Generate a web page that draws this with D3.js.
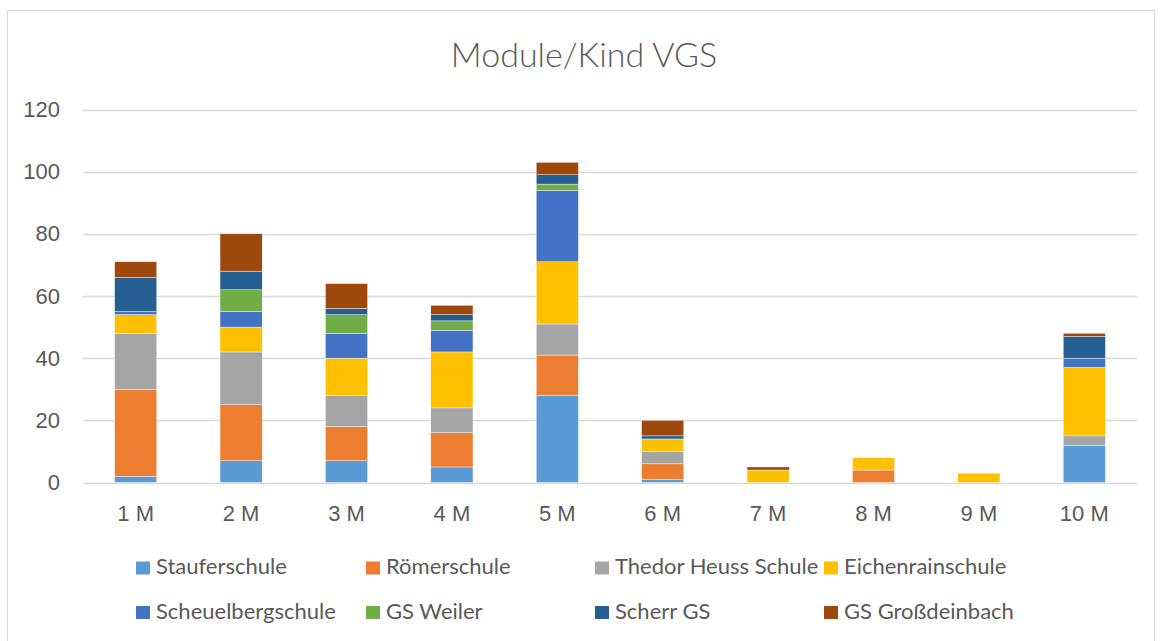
<!DOCTYPE html>
<html>
<head>
<meta charset="utf-8">
<script src="https://cdn.jsdelivr.net/npm/d3@7"></script>
<style>
  body { margin: 0; background: #fff; }
  svg { display: block; font-family: Lato, "Open Sans", sans-serif; }
</style>
</head>
<body>
<svg width="1160" height="641"></svg>
<script>
const categories = ['1 M', '2 M', '3 M', '4 M', '5 M', '6 M', '7 M', '8 M', '9 M', '10 M'];
const schools = ['Stauferschule', 'Römerschule', 'Thedor Heuss Schule', 'Eichenrainschule',
  'Scheuelbergschule', 'GS Weiler', 'Scherr GS', 'GS Großdeinbach'];
const colors = ['#5b9bd5', '#ed7d31', '#a5a5a5', '#ffc000', '#4472c4', '#70ad47', '#255e91', '#9e480e'];

const stauferschule = [2, 7, 7, 5, 28, 1, 0, 0, 0, 12];
const roemerschule = [28, 18, 11, 11, 13, 5, 0, 4, 0, 0];
const theodorHeuss = [18, 17, 10, 8, 10, 4, 0, 0, 0, 3];
const eichenrain = [6, 8, 12, 18, 20, 4, 4, 4, 3, 22];
const scheuelberg = [1, 5, 8, 7, 23, 0, 0, 0, 0, 3];
const gsWeiler = [0, 7, 6, 3, 2, 0, 0, 0, 0, 0];
const scherrGS = [11, 6, 2, 2, 3, 1, 0, 0, 0, 7];
const grossdeinbach = [5, 12, 8, 3, 4, 5, 1, 0, 0, 1];

const yTicks = [0, 20, 40, 60, 80, 100, 120];

const series = [stauferschule, roemerschule, theodorHeuss, eichenrain,
  scheuelberg, gsWeiler, scherrGS, grossdeinbach];

const rows = categories.map((c, i) => {
  const row = { cat: c };
  schools.forEach((s, j) => { row[s] = series[j][i]; });
  return row;
});

const svg = d3.select('svg');
const textColor = '#595959';

// chart frame
svg.append('rect')
  .attr('x', 7.5).attr('y', 10.5)
  .attr('width', 1147).attr('height', 640)
  .attr('fill', 'none').attr('stroke', '#d9d9d9');

const x = d3.scaleBand().domain(categories).range([83, 1137]).paddingInner(0.6).paddingOuter(0.3);
const y = d3.scaleLinear().domain([0, 120]).range([482.5, 109.5]);

// title
svg.append('text')
  .attr('x', 584).attr('y', 66.5)
  .attr('text-anchor', 'middle')
  .attr('font-size', 34).attr('font-weight', 300)
  .attr('fill', textColor)
  .text('Module/Kind VGS');

// gridlines
svg.append('g')
  .selectAll('line')
  .data(yTicks)
  .join('line')
  .attr('x1', 83).attr('x2', 1137)
  .attr('y1', d => Math.round(y(d)) + 0.5).attr('y2', d => Math.round(y(d)) + 0.5)
  .attr('stroke', '#d9d9d9').attr('stroke-width', 1.3);

// y axis
const yAxis = svg.append('g')
  .attr('transform', 'translate(60,0)')
  .call(d3.axisLeft(y).tickValues(yTicks).tickSize(0).tickPadding(0));
yAxis.select('.domain').remove();
yAxis.selectAll('text').attr('font-size', 22).attr('fill', textColor).attr('font-family', null);

// stacked bars
const stack = d3.stack().keys(schools)(rows);

svg.append('g')
  .selectAll('g')
  .data(stack)
  .join('g')
  .attr('fill', (d, i) => colors[i])
  .selectAll('rect')
  .data(d => d)
  .join('rect')
  .attr('x', d => x(d.data.cat))
  .attr('width', x.bandwidth())
  .attr('y', d => y(d[1]))
  .attr('height', d => y(d[0]) - y(d[1]))
  .attr('stroke', '#fff').attr('stroke-width', d => (d[1] > d[0] ? 0.4 : 0));

// x axis
const xAxis = svg.append('g')
  .attr('transform', 'translate(0,483)')
  .call(d3.axisBottom(x).tickSize(0));
xAxis.select('.domain').remove();
xAxis.selectAll('text')
  .attr('y', 37.5).attr('dy', 0)
  .attr('font-size', 22).attr('fill', textColor).attr('font-family', null);

// legend
const legendCols = [136, 366, 595, 824];
const legendRows = [574, 618.5];
const legend = svg.append('g')
  .selectAll('g')
  .data(schools)
  .join('g')
  .attr('transform', (d, i) => `translate(${legendCols[i % 4]},${legendRows[Math.floor(i / 4)]})`);
legend.append('rect')
  .attr('x', 0).attr('y', -12.5)
  .attr('width', 14).attr('height', 13)
  .attr('fill', (d, i) => colors[i]);
legend.append('text')
  .attr('x', 20).attr('y', 0)
  .attr('font-size', 22)
  .attr('fill', textColor)
  .text(d => d);
</script>
</body>
</html>
